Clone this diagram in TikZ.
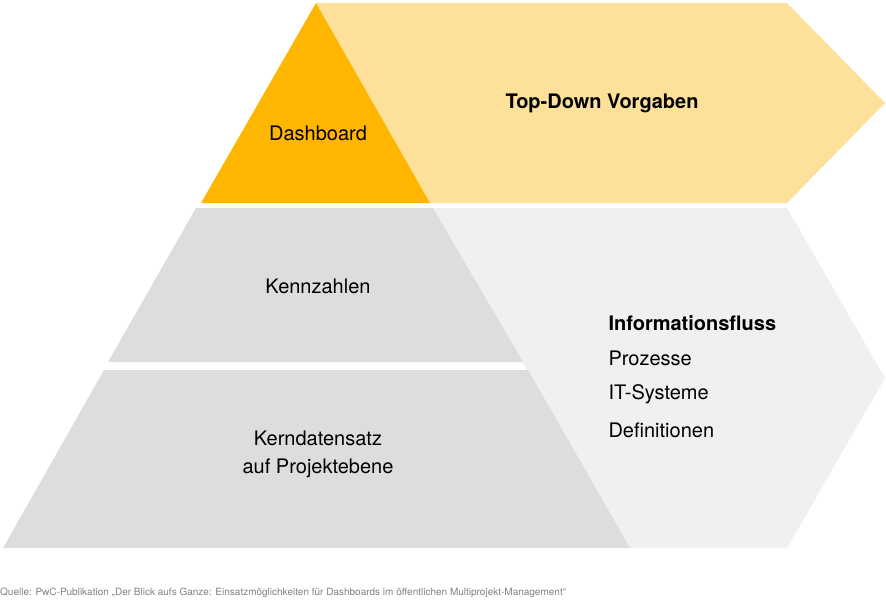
\documentclass[tikz,border=0pt]{standalone}
\usepackage{fontspec}
\setmainfont{TeX Gyre Heros}
\usepackage{tikz}
\usetikzlibrary{positioning}
\definecolor{dashorange}{HTML}{FFB600}
\definecolor{vorgabegelb}{HTML}{FDE19B}
\definecolor{stufengrau}{HTML}{DDDDDD}
\definecolor{flussgrau}{HTML}{F0F0F0}
\definecolor{quellgrau}{HTML}{808080}
\tikzstyle{stufentext} = [font=\fontsize{20}{24}\selectfont, text centered, align=center]
\tikzstyle{listitem} = [font=\fontsize{20}{24}\selectfont, anchor=west]

\begin{document}
\begin{tikzpicture}[x=1pt, y=-1pt]
\useasboundingbox (0,0) rectangle (886,602);

% Pfeile im Hintergrund
\fill [vorgabegelb] (316,3) -- (787,3) -- (885,103) -- (787,203) -- (430,203) -- cycle;
\fill [flussgrau] (433,208) -- (787,208) -- (885,378) -- (787,548) -- (630,548) -- cycle;

% Pyramide
\fill [dashorange] (316,3) -- (430,203) -- (201,203) -- cycle;
\fill [stufengrau] (196,208) -- (433,208) -- (523,362) -- (108,362) -- cycle;
\fill [stufengrau] (104,370) -- (528,370) -- (630,548) -- (3,548) -- cycle;

\node (dashboard) [stufentext] at (318,133) {Dashboard};
\node (topdown) [stufentext, font=\fontsize{20}{24}\selectfont\bfseries] at (602,103) {Top-Down Vorgaben};
\node (kennzahlen) [stufentext] at (318,286) {Kennzahlen};
\node (kerndaten) [stufentext, font=\fontsize{20}{28}\selectfont] at (318,454) {Kerndatensatz\\auf Projektebene};

\node (infofluss) [listitem, font=\fontsize{20}{24}\selectfont\bfseries] at (605,323) {Informationsfluss};
\node (prozesse) [listitem] at (605,358) {Prozesse};
\node (itsysteme) [listitem] at (605,394) {IT-Systeme};
\node (definitionen) [listitem] at (605,430) {Definitionen};

\node (quelle) [anchor=west, text=quellgrau, font=\fontsize{10}{12}\selectfont, inner sep=0pt] at (0,593) {Quelle: PwC-Publikation „Der Blick aufs Ganze: Einsatzmöglichkeiten für Dashboards im öffentlichen Multiprojekt-Management“};

\end{tikzpicture}
\end{document}
